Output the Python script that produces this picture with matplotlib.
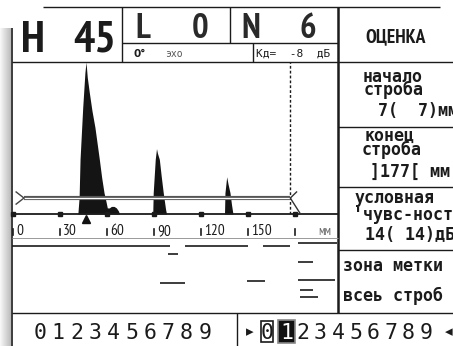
import matplotlib.pyplot as plt
import numpy as np
from matplotlib.patches import Rectangle
from matplotlib import font_manager as fm

W, H = 453, 346
INK = '#1b1b1b'
MONO = 'DejaVu Sans Mono'

# pick a condensed face for the header, fall back to Liberation Sans
available = {f.name for f in fm.fontManager.ttflist}
NARROW = next((n for n in ['PT Sans Narrow', 'Roboto Condensed', 'Liberation Sans Narrow',
                           'Archivo Narrow'] if n in available), 'Liberation Sans')
NARROW_FAM = [NARROW, 'DejaVu Sans']

# A-scan envelope: depth (mm) and amplitude (% of screen height)
depth_mm = [0, 41.4, 42.2, 42.8, 44.5, 45.9, 46.6, 47.4, 48.7, 50.4, 52.3, 55.1,
            56.6, 58.1, 59.4, 60.2, 61.5, 62.8, 64.5, 66.0, 67.3, 68.0,
            89.2, 89.5, 90.8, 91.6, 92.2, 93.4, 94.6, 95.9, 97.4, 98.0,
            135.0, 135.3, 136.4, 137.2, 138.5, 139.5, 140.4, 207.0]
amp_pct = [0, 0, 11, 36, 70, 93, 100, 90, 80, 68, 57, 36,
           24, 14, 8, 4, 4, 5, 5, 4, 2, 0,
           0, 14, 36, 43, 40, 36, 25, 14, 3, 0,
           0, 14, 24.5, 20, 14, 6, 0, 0]

scale_ticks = [0, 30, 60, 90, 120, 150, 180]
scale_labels = ['0', '30', '60', '90', '120', '150', '']

gate_start = 7      # мм
gate_end = 177      # мм
gate_level = 10.5   # %
peak_depth = 46.6   # мм

# leftover B-scan trace below the scale (depth mm, row)
trace_start = [-0.6, 110.0, 159.8, 182.0, 99.0, 181.9, 93.8, 149.3, 181.9, 183.0, 183.0]
trace_end = [100.5, 150.0, 177.0, 207.0, 105.4, 191.5, 109.8, 160.8, 205.5, 191.5, 194.8]
trace_row = [8, 8, 8, 5, 16, 24, 45, 43, 42, 52, 59]

fig = plt.figure(figsize=(W / 100, H / 100), dpi=100)
fig.patch.set_facecolor('white')

frame = fig.add_axes([0, 0, 1, 1])
shade = np.linspace(0.97, 0.74, 12)[None, :].repeat(2, 0)
frame.imshow(shade, extent=(0, 11, H, 28), cmap='gray', vmin=0, vmax=1,
             aspect='auto', interpolation='bilinear')
frame.set_xlim(0, W)
frame.set_ylim(H, 0)
frame.axis('off')


def seg(x0, y0, x1, y1, lw=1.0, color=INK):
    frame.plot([x0, x1], [y0, y1], color=color, lw=lw, solid_capstyle='butt')


# panel borders
seg(43, 7, 440, 7)
seg(12, 28, 12, H, lw=1.2)
seg(12, 62, W, 62)
seg(122, 7, 122, 62)
seg(229.5, 7, 229.5, 43)
seg(122, 43, 338, 43)
seg(253, 43, 253, 62)
seg(338, 7, 338, 313, lw=1.8)
seg(338, 127, W, 127)
seg(338, 187, W, 187)
seg(338, 250, W, 250)
seg(12, 238, 338, 238, lw=0.7, color='#999999')
seg(12, 313, W, 313)
seg(237, 313, 237, H)

# header
frame.text(21, 52, 'H', fontsize=32, family=NARROW_FAM, weight='bold', color=INK)
frame.text(116, 52, '45', fontsize=32, family=NARROW_FAM, weight='bold', color=INK, ha='right')
for x, s, ha in [(135, 'L', 'left'), (208, '0', 'right'), (241, 'N', 'left'), (316, '6', 'right')]:
    frame.text(x, 38, s, fontsize=25, family=NARROW_FAM, weight='bold', color='#2a2a2a', ha=ha)
frame.text(133, 57, '0°', fontsize=7.5, family='DejaVu Sans', weight='bold', color=INK)
frame.text(165, 57, 'эхо', fontsize=7, family=MONO, color='#555555')
frame.text(256, 57, 'Кд=  -8  дБ', fontsize=8, family=MONO, color=INK)
frame.text(396, 42, 'ОЦЕНКА', fontsize=14, family=NARROW_FAM, weight='bold', color=INK,
           ha='center')

# settings column
side = [(363, 82, 'начало'), (364, 95, 'строба'), (378, 116, '7(  7)мм'),
        (365, 141, 'конец'), (362, 155, 'строба'), (370, 177, ']177[ мм'),
        (355, 203, 'условная'), (353, 220, '\'чувс-ность'), (365, 240, '14( 14)дБ'),
        (343, 271, 'зона метки'), (343, 301, 'всеь строб')]
for x, y, s in side:
    frame.text(x, y, s, fontsize=12, family=MONO, weight='bold', color=INK, clip_on=True)

# digit rows
for i, d in enumerate('0123456789'):
    frame.text(40 + i * 18.3, 339, d, fontsize=15.5, family=MONO, color=INK, ha='center')
frame.text(250, 336, '▸', fontsize=11, family='DejaVu Sans', color=INK, ha='center')
frame.add_patch(Rectangle((261, 321), 12, 21, fill=False, ec=INK, lw=1.2))
frame.add_patch(Rectangle((278, 320), 17, 23, fc='#111111', ec='#888888', lw=1.2))
right_x = [267, 286.5, 303, 320.5, 338, 355.5, 373, 390.5, 408, 426]
for x, d in zip(right_x, '0123456789'):
    frame.text(x, 339, d, fontsize=15.5, family=MONO, ha='center',
               color='white' if d == '1' else INK)
frame.text(449, 336, '◂', fontsize=11, family='DejaVu Sans', color=INK, ha='center')


def px_rect(x0, y0, x1, y1):
    return [x0 / W, 1 - y1 / H, (x1 - x0) / W, (y1 - y0) / H]


mm_per_px = 30 / 47
xlim = ((12 - 13) * mm_per_px, (338 - 13) * mm_per_px)

# A-scan
ascan = fig.add_axes(px_rect(12, 62, 338, 214))
ascan.set_xlim(*xlim)
ascan.set_ylim(0, 100)
ascan.axis('off')
ascan.fill_between(depth_mm, amp_pct, 0, color='#141414', lw=0, zorder=2)
ascan.axhline(0, color=INK, lw=1.3, clip_on=False)
ascan.plot(scale_ticks, [0] * len(scale_ticks), 's', ms=2.5, color=INK, clip_on=False)

ascan.hlines(gate_level, gate_start, gate_end, color='#555555', lw=3, zorder=3)
ascan.hlines(gate_level, gate_start, gate_end, color='white', lw=0.9, zorder=4)
ascan.plot([gate_start - 5, gate_start, gate_start - 5],
           [gate_level + 4, gate_level, gate_level - 4], color='#444444', lw=1, zorder=4)
ascan.plot([gate_end + 4, gate_end, gate_end + 6.5],
           [gate_level + 4, gate_level, 0], color='#333333', lw=1, zorder=4, clip_on=False)
ascan.vlines(gate_end, 0, 100, colors=INK, linestyles=(0, (2, 1.5)), lw=1)

tx = ascan.get_xaxis_transform()
for v, lab in zip(scale_ticks, scale_labels):
    ascan.plot([v, v], [-0.10, -0.138], transform=tx, color=INK, lw=1.2, clip_on=False)
    ascan.annotate(lab, xy=(v, -0.138), xycoords=tx, xytext=(3, 0),
                   textcoords='offset pixels', va='baseline', ha='left',
                   fontsize=11, family=NARROW_FAM, color=INK, annotation_clip=False)
ascan.text(194.6, -0.138, 'мм', transform=tx, va='baseline', fontsize=9,
           family=NARROW_FAM, color='#666666', clip_on=False)
ascan.plot(peak_depth, -3.6, marker='^', ms=6, color='#111111', clip_on=False)

# B-scan remnant
bscan = fig.add_axes(px_rect(12, 238, 338, 313))
bscan.set_xlim(*xlim)
bscan.set_ylim(75, 0)
bscan.axis('off')
bscan.hlines(trace_row, trace_start, trace_end, colors=INK, lw=1.2)

fig.savefig('out.png', dpi=100, facecolor='white')
